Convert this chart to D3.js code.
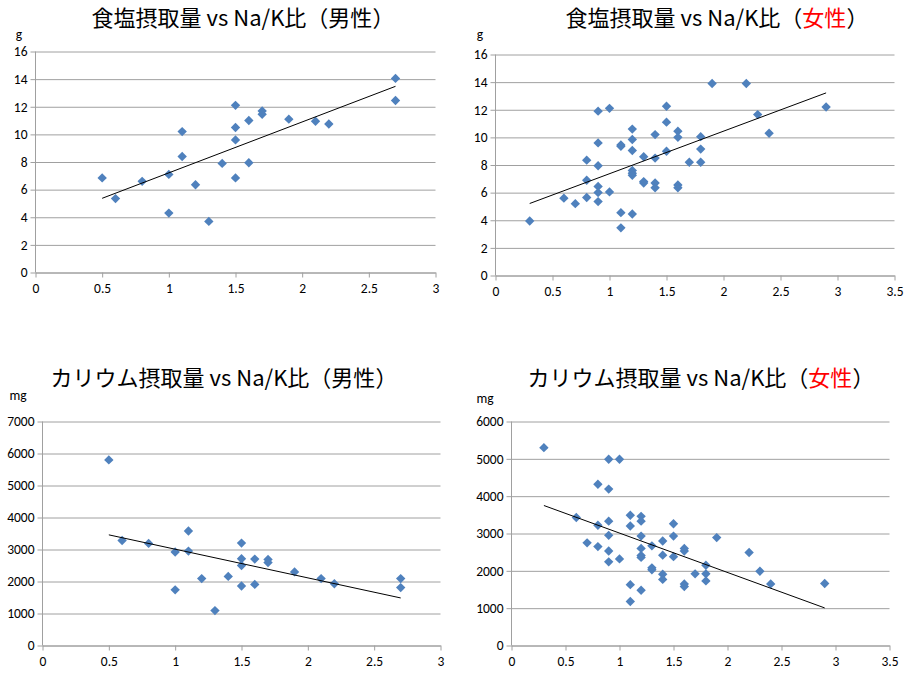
<!DOCTYPE html>
<html>
<head>
<meta charset="utf-8">
<script src="https://cdn.jsdelivr.net/npm/d3@7"></script>
<style>
  body { margin: 0; background: #fff; }
  svg { display: block; }
</style>
</head>
<body>
<script>
// Na/K比 (男性) と各摂取量
const maleRatio = [0.5, 0.6, 0.8, 1.0, 1.0, 1.1, 1.1, 1.2, 1.3, 1.4, 1.5, 1.5, 1.5, 1.5,
  1.6, 1.6, 1.7, 1.7, 1.9, 2.1, 2.2, 2.7, 2.7];
const maleSalt = [6.85, 5.35, 6.6, 7.1, 4.3, 10.2, 8.4, 6.35, 3.7, 7.9, 12.1, 10.5, 9.6, 6.85,
  11.0, 7.95, 11.7, 11.45, 11.1, 10.95, 10.75, 14.05, 12.45];
const maleK = [5800, 3280, 3190, 2920, 1740, 3580, 2950, 2090, 1090, 2160, 3200, 2710, 2500, 1860,
  2700, 1910, 2690, 2590, 2300, 2090, 1930, 2090, 1810];

// Na/K比 (女性) と各摂取量
const femaleRatio = [0.3, 0.6, 0.7, 0.8, 0.8, 0.8, 0.9, 0.9, 0.9, 0.9, 0.9, 0.9, 1.0, 1.0,
  1.1, 1.1, 1.1, 1.1, 1.2, 1.2, 1.2, 1.2, 1.2, 1.2, 1.2, 1.3, 1.3, 1.3, 1.4, 1.4, 1.4, 1.4,
  1.5, 1.5, 1.5, 1.6, 1.6, 1.6, 1.6, 1.7, 1.8, 1.8, 1.8, 1.9, 2.2, 2.3, 2.4, 2.9];
const femaleSalt = [3.95, 5.6, 5.2, 8.35, 6.9, 5.65, 11.9, 9.6, 7.95, 6.45, 6.0, 5.35, 12.1, 6.05,
  9.45, 9.35, 4.55, 3.45, 10.6, 9.85, 9.05, 7.6, 7.4, 7.25, 4.45, 8.6, 6.8, 6.7, 10.2, 8.5, 6.7, 6.35,
  12.25, 11.1, 9.0, 10.45, 10.0, 6.55, 6.35, 8.2, 10.05, 9.15, 8.2, 13.9, 13.9, 11.65, 10.3, 12.2];
const femaleK = [5300, 3430, 2750, 4320, 3220, 2650, 4990, 4190, 3330, 2950, 2530, 2240, 4990, 2320,
  3490, 3200, 1630, 1180, 3460, 3330, 2930, 2600, 2410, 2360, 1480, 2670, 2080, 2030, 2800, 2420, 1910, 1770,
  3260, 2930, 2380, 2600, 2530, 1650, 1580, 1920, 2150, 1920, 1730, 2890, 2490, 1990, 1650, 1660];

const saltTitle = "食塩摂取量 vs Na/K比";
const kTitle = "カリウム摂取量 vs Na/K比";
const xTicksShort = [0, 0.5, 1, 1.5, 2, 2.5, 3];
const xTicksLong = [0, 0.5, 1, 1.5, 2, 2.5, 3, 3.5];
const saltTicks = [0, 2, 4, 6, 8, 10, 12, 14, 16];
const kTicks7 = [0, 1000, 2000, 3000, 4000, 5000, 6000, 7000];
const kTicks6 = [0, 1000, 2000, 3000, 4000, 5000, 6000];

const width = 905, height = 674;
const gridColor = "#a0a0a0";
const markColor = "#4f81bd";
const tickFont = "Carlito, Lato, 'Liberation Sans', sans-serif";
const titleFont = "'Noto Sans CJK JP', sans-serif";
const tickSize = 13.5;

const panels = [
  { title: saltTitle, sex: "男性", red: false, unit: "g", xs: maleRatio, ys: maleSalt,
    xTicks: xTicksShort, yTicks: saltTicks,
    left: 35.5, top: 51.5, right: 435.5, bottom: 272.5, titleX: 243, titleY: 26, unitX: 19, unitY: 39 },
  { title: saltTitle, sex: "女性", red: true, unit: "g", xs: femaleRatio, ys: femaleSalt,
    xTicks: xTicksLong, yTicks: saltTicks,
    left: 495.5, top: 54.5, right: 894.5, bottom: 275.5, titleX: 717, titleY: 26, unitX: 480, unitY: 39 },
  { title: kTitle, sex: "男性", red: false, unit: "mg", xs: maleRatio, ys: maleK,
    xTicks: xTicksShort, yTicks: kTicks7,
    left: 42.5, top: 421.5, right: 440.5, bottom: 645.5, titleX: 224, titleY: 386, unitX: 18, unitY: 400 },
  { title: kTitle, sex: "女性", red: true, unit: "mg", xs: femaleRatio, ys: femaleK,
    xTicks: xTicksLong, yTicks: kTicks6,
    left: 511.5, top: 421.5, right: 889.5, bottom: 645.5, titleX: 701, titleY: 386, unitX: 485, unitY: 403 }
];

const svg = d3.select("body").append("svg")
  .attr("width", width)
  .attr("height", height);

const diamond = d3.symbol(d3.symbolSquare, 44);

panels.forEach(p => {
  const x = d3.scaleLinear()
    .domain(d3.extent(p.xTicks))
    .range([p.left, p.right]);
  const y = d3.scaleLinear()
    .domain(d3.extent(p.yTicks))
    .range([p.bottom, p.top]);

  const g = svg.append("g");

  // 横のグリッド線 (左へ少しはみ出す目盛り付き)
  g.append("g")
    .attr("transform", `translate(${p.left},0)`)
    .call(d3.axisLeft(y).tickValues(p.yTicks).tickSize(-(p.right - p.left)).tickSizeOuter(0).tickPadding(8)
      .tickFormat(d => d))
    .call(a => a.select(".domain").remove())
    .call(a => a.selectAll(".tick line").attr("stroke", gridColor).attr("x1", -5))
    .call(a => a.selectAll(".tick text")
      .attr("fill", "#000")
      .attr("font-family", tickFont)
      .attr("font-size", tickSize));

  // 縦軸
  g.append("line")
    .attr("x1", p.left).attr("x2", p.left)
    .attr("y1", p.top).attr("y2", p.bottom)
    .attr("stroke", gridColor);

  // 横軸
  g.append("g")
    .attr("transform", `translate(0,${p.bottom})`)
    .call(d3.axisBottom(x).tickValues(p.xTicks).tickSize(5).tickSizeOuter(0).tickPadding(6)
      .tickFormat(d => d))
    .call(a => a.select(".domain").attr("stroke", gridColor))
    .call(a => a.selectAll(".tick line").attr("stroke", gridColor))
    .call(a => a.selectAll(".tick text")
      .attr("fill", "#000")
      .attr("font-family", tickFont)
      .attr("font-size", tickSize));

  // 単位
  g.append("text")
    .attr("x", p.unitX)
    .attr("y", p.unitY)
    .attr("text-anchor", "middle")
    .attr("font-family", tickFont)
    .attr("font-size", tickSize)
    .text(p.unit);

  // タイトル
  const t = g.append("text")
    .attr("x", p.titleX)
    .attr("y", p.titleY)
    .attr("text-anchor", "middle")
    .attr("font-family", titleFont)
    .attr("font-size", 22)
    .attr("fill", "#000");
  t.append("tspan").text(p.title + "（");
  t.append("tspan").attr("fill", p.red ? "#ff0000" : "#000").text(p.sex);
  t.append("tspan").text("）");

  // 点
  const pts = p.xs.map((v, i) => [v, p.ys[i]]);
  g.append("g")
    .selectAll("path")
    .data(pts)
    .join("path")
      .attr("d", diamond)
      .attr("transform", d => `translate(${x(d[0])},${y(d[1])}) rotate(45)`)
      .attr("fill", markColor);

  // 線形近似 (最小二乗)
  const mx = d3.mean(pts, d => d[0]);
  const my = d3.mean(pts, d => d[1]);
  const slope = d3.sum(pts, d => (d[0] - mx) * (d[1] - my)) / d3.sum(pts, d => (d[0] - mx) ** 2);
  const icpt = my - slope * mx;
  const [x0, x1] = d3.extent(p.xs);
  g.append("path")
    .datum([x0, x1])
    .attr("d", d3.line().x(d => x(d)).y(d => y(icpt + slope * d)))
    .attr("fill", "none")
    .attr("stroke", "#000")
    .attr("stroke-width", 1);
});
</script>
</body>
</html>
